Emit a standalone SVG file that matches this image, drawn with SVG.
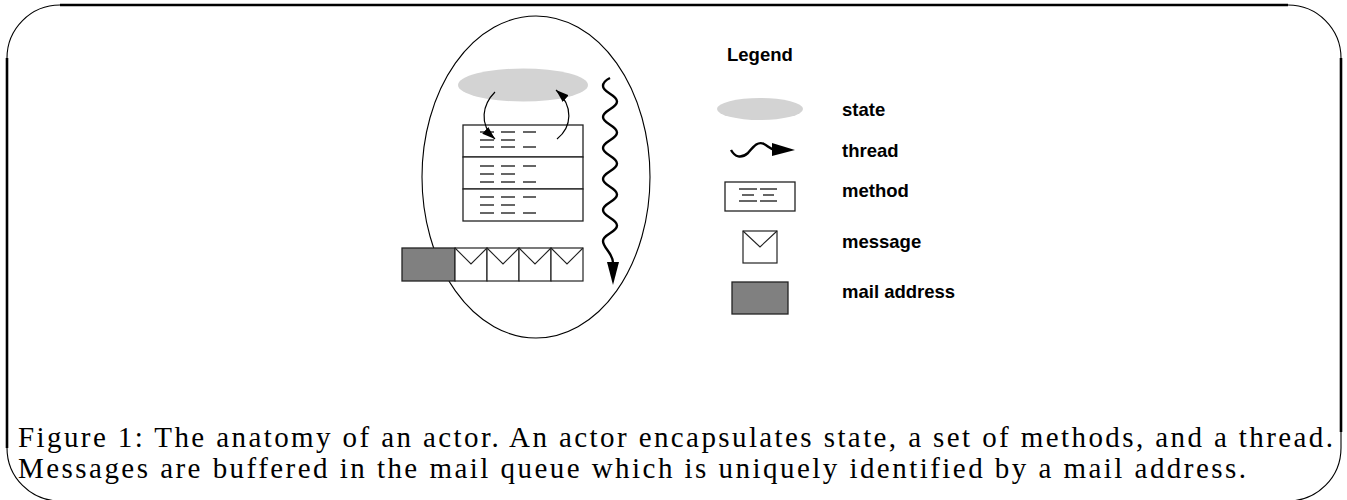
<svg xmlns="http://www.w3.org/2000/svg" width="1347" height="500" viewBox="0 0 1347 500">
<style>
.frame{fill:none;stroke:#000;stroke-width:2.6}
.arc{fill:none;stroke:#000;stroke-width:1.1}
.box{fill:#fff;stroke:#222;stroke-width:1.3}
.dash{stroke:#000;stroke-width:1.2}
.state{fill:#d3d3d3;stroke:none}
.addr{fill:#808080;stroke:#222;stroke-width:1.3}
.env{fill:#fff;stroke:#222;stroke-width:1.2}
.vline{fill:none;stroke:#222;stroke-width:1.1}
.wave{fill:none;stroke:#000;stroke-width:2.4}
.leg{font-family:"Liberation Sans",Arial,sans-serif;font-weight:bold;font-size:18.5px;fill:#000}
.cap{font-family:"Liberation Serif","Times New Roman",serif;font-size:29px;fill:#000}
</style>
<defs>
<marker id="ah" markerUnits="userSpaceOnUse" markerWidth="14" markerHeight="10" refX="13" refY="4.5" orient="auto">
<path d="M0,0 L13,4.5 L0,9 z" fill="#000"/>
</marker>
</defs>
<rect width="1347" height="500" fill="#fff"/>

<g id="frame">
<line class="frame" x1="60" y1="5" x2="1288" y2="5"/>
<line class="frame" x1="7" y1="58" x2="7" y2="448"/>
<line class="frame" x1="1341" y1="58" x2="1341" y2="432"/>
<path class="arc" d="M7,58 A53,53 0 0 1 60,5"/>
<path class="arc" d="M1288,5 A53,53 0 0 1 1341,58"/>
<path class="arc" d="M7,448 A53,53 0 0 0 60,501"/>
<path class="arc" d="M1341,432 L1341,448 A53,53 0 0 1 1288,501"/>
</g>

<g id="actor">
<ellipse cx="536" cy="177" rx="114" ry="161" fill="none" stroke="#000" stroke-width="1.1"/>
</g>

<g id="state">
<ellipse class="state" cx="523" cy="85" rx="65" ry="16.5"/>
</g>

<g id="methods">
<rect class="box" x="463" y="125" width="120" height="32"/>
<rect class="box" x="463" y="157" width="120" height="32"/>
<rect class="box" x="463" y="189" width="120" height="32"/>
<g class="dash">
<line x1="480" y1="132" x2="494" y2="132"/><line x1="501" y1="132" x2="515" y2="132"/><line x1="523" y1="132" x2="536" y2="132"/>
<line x1="480" y1="140" x2="494" y2="140"/><line x1="501" y1="140" x2="515" y2="140"/>
<line x1="480" y1="147" x2="494" y2="147"/><line x1="501" y1="147" x2="515" y2="147"/><line x1="523" y1="147" x2="536" y2="147"/>
<line x1="480" y1="166" x2="494" y2="166"/><line x1="501" y1="166" x2="515" y2="166"/><line x1="523" y1="166" x2="536" y2="166"/>
<line x1="480" y1="174" x2="494" y2="174"/><line x1="501" y1="174" x2="515" y2="174"/>
<line x1="480" y1="182" x2="494" y2="182"/><line x1="501" y1="182" x2="515" y2="182"/><line x1="523" y1="182" x2="536" y2="182"/>
<line x1="480" y1="197" x2="494" y2="197"/><line x1="501" y1="197" x2="515" y2="197"/><line x1="523" y1="197" x2="536" y2="197"/>
<line x1="480" y1="205" x2="494" y2="205"/><line x1="501" y1="205" x2="515" y2="205"/>
<line x1="480" y1="213" x2="494" y2="213"/><line x1="501" y1="213" x2="515" y2="213"/><line x1="523" y1="213" x2="536" y2="213"/>
</g>
</g>

<g id="mailqueue">
<rect class="addr" x="402" y="248" width="53" height="33"/>
<rect class="env" x="455" y="248" width="32" height="33"/>
<rect class="env" x="487" y="248" width="32" height="33"/>
<rect class="env" x="519" y="248" width="32" height="33"/>
<rect class="env" x="551" y="248" width="32" height="33"/>
<path class="vline" d="M455,248 L471,264 L487,248 M487,248 L503,264 L519,248 M519,248 L535,264 L551,248 M551,248 L567,264 L583,248"/>
</g>

<g id="connectors">
<path d="M495,92 C483,104 478,124 495,139" fill="none" stroke="#000" stroke-width="1.2" marker-end="url(#ah)"/>
<path d="M557,139 C572,127 574,106 556,90" fill="none" stroke="#000" stroke-width="1.2" marker-end="url(#ah)"/>
<path class="wave" d="M610,78 C606,80 603,82 603,86 C603,93 617,94.5 617,101.5 C617,108.5 603,110 603,117 C603,124 617,125.5 617,132.5 C617,139.5 603,141 603,148 C603,155 617,156.5 617,163.5 C617,170.5 603,172 603,179 C603,186 617,187.5 617,194.5 C617,201.5 603,203 603,210 C603,217 617,218.5 617,225.5 C617,232.5 603,234 603,241 C603,248 613,253 613,263"/>
<polygon points="607,262 619,262 613,285" fill="#000"/>
</g>

<g id="legend">
<text class="leg" x="727" y="61">Legend</text>
<ellipse class="state" cx="760" cy="109" rx="43" ry="11"/>
<text class="leg" x="842" y="116">state</text>
<path d="M731,150 C735,157 741,159 748,153 C754,146 758,141 764,144 C768,146 770,149 775,150" fill="none" stroke="#000" stroke-width="2.4"/>
<polygon points="772,143 795,150 772,156" fill="#000"/>
<text class="leg" x="842" y="157">thread</text>
<rect class="box" x="725" y="182" width="70" height="29"/>
<g class="dash">
<line x1="739" y1="189" x2="757" y2="189"/><line x1="760" y1="189" x2="777" y2="189"/>
<line x1="742" y1="195" x2="754" y2="195"/><line x1="763" y1="195" x2="774" y2="195"/>
<line x1="739" y1="201" x2="757" y2="201"/><line x1="760" y1="201" x2="777" y2="201"/>
</g>
<text class="leg" x="842" y="197">method</text>
<rect class="env" x="743" y="231" width="34" height="32"/>
<path class="vline" d="M743,231 L760,247 L777,231"/>
<text class="leg" x="842" y="248">message</text>
<rect class="addr" x="732" y="282" width="56" height="32"/>
<text class="leg" x="842" y="298">mail address</text>
</g>

<g id="caption">
<text class="cap" x="18" y="447" textLength="1315" lengthAdjust="spacing">Figure 1: The anatomy of an actor. An actor encapsulates state, a set of methods, and a thread.</text>
<text class="cap" x="18" y="478" textLength="1228" lengthAdjust="spacing">Messages are buffered in the mail queue which is uniquely identified by a mail address.</text>
</g>
</svg>
